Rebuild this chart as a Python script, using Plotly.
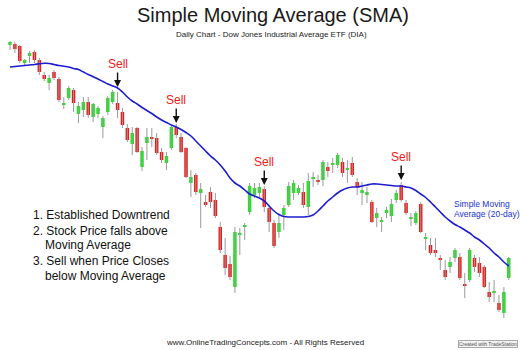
import plotly.graph_objects as go

# ---- data (price units) ----
opens = [305, 306, 304, 287, 294, 298, 290, 275, 267, 278,
         271, 245, 252, 260, 236, 240, 248, 233, 236, 223,
         238, 248, 247, 238, 222, 206, 222, 183, 207, 213,
         212, 198, 187, 202, 223, 213, 202, 167, 175, 157,
         148, 158, 150, 123, 95, 86, 63, 115, 123, 138,
         155, 157, 161, 142, 127, 118, 135, 145, 157, 157,
         158, 143, 171, 170, 170, 183, 185, 185, 188, 180,
         187, 168, 157, 155, 148, 132, 128, 137, 134, 150,
         165, 147, 131, 127, 146, 111, 105, 100, 92, 80,
         83, 92, 93, 66, 70, 92, 87, 83, 58, 57,
         47, 37, 72]
highs = [309, 308, 305, 291, 299, 300, 292, 278, 275, 280,
         273, 253, 264, 262, 248, 253, 253, 247, 244, 234,
         254, 260, 258, 242, 226, 223, 223, 203, 222, 222,
         217, 202, 198, 225, 226, 217, 203, 180, 177, 167,
         155, 163, 157, 128, 112, 94, 123, 122, 127, 167,
         167, 167, 164, 145, 130, 135, 145, 168, 170, 165,
         167, 177, 178, 175, 190, 188, 192, 197, 192, 190,
         193, 172, 168, 163, 150, 142, 133, 143, 151, 160,
         168, 150, 137, 139, 148, 117, 112, 112, 95, 90,
         93, 102, 97, 77, 102, 95, 93, 85, 68, 70,
         55, 63, 93]
lows = [300, 297, 287, 285, 287, 287, 275, 269, 260, 270,
        248, 241, 250, 238, 227, 233, 232, 228, 232, 212,
        235, 246, 232, 222, 208, 195, 197, 179, 190, 203,
        195, 187, 180, 200, 212, 197, 172, 153, 155, 122,
        143, 142, 132, 97, 75, 70, 57, 95, 110, 135,
        152, 153, 138, 118, 102, 112, 120, 143, 150, 155,
        142, 135, 163, 165, 164, 173, 177, 182, 173, 167,
        173, 155, 145, 147, 127, 123, 118, 132, 128, 147,
        148, 135, 124, 125, 117, 100, 95, 93, 80, 70,
        77, 88, 70, 52, 68, 78, 73, 62, 48, 48,
        38, 32, 70]
closes = [308, 301, 289, 290, 297, 290, 278, 271, 272, 272,
          250, 247, 262, 247, 244, 248, 235, 246, 242, 232,
          252, 258, 240, 225, 210, 217, 198, 199, 213, 211,
          197, 190, 194, 223, 215, 198, 173, 173, 158, 161,
          145, 148, 134, 100, 82, 73, 118, 117, 125, 164,
          162, 163, 143, 128, 104, 127, 142, 164, 167, 162,
          145, 169, 173, 168, 188, 179, 187, 195, 177, 182,
          175, 163, 160, 158, 128, 137, 130, 140, 146, 157,
          150, 137, 133, 137, 118, 113, 97, 97, 90, 73,
          88, 100, 72, 64, 100, 83, 77, 63, 53, 59,
          40, 58, 92]
sma20 = [283, 283.5, 284, 284.5, 285, 285.5, 286.2, 286.7, 286.5, 285.5,
         284.5, 283.7, 283, 281.5, 280.5, 278, 275.5, 273.3, 271, 268.5,
         266, 264, 262, 258, 253, 249, 246, 242.5, 239.5, 236.5,
         233, 230, 227.5, 225, 223, 220.5, 217.5, 214, 209, 204,
         199, 194, 190, 185, 179, 172, 167, 164, 160, 156,
         154, 152, 149, 144, 139, 135.5, 133.5, 133, 133, 133,
         133, 133.5, 135, 139, 144, 149, 153, 157, 160, 162,
         163, 163, 164, 165, 166, 166, 165.5, 165, 164.5, 164,
         164, 163, 162, 159.5, 156, 152.5, 148, 143, 138, 133,
         129, 125.5, 123, 120, 117, 113, 110, 106, 102, 97,
         93, 88, 84]
sell_idx = [22, 34, 52, 80]
sell_tip = [263, 227, 165, 170]

steps = [
    "1. Established Downtrend",
    "2. Stock Price falls above",
    "Moving Average",
    "3. Sell when Price Closes",
    "below Moving Average",
]
step_indent = [False, False, True, False, True]

days = list(range(len(opens)))
FONT = "Liberation Sans, Arial, sans-serif"
RED = "#f01818"
GREEN = "#1ee61e"

fig = go.Figure()

# wicks
wx, wy = [], []
for d, h, l in zip(days, highs, lows):
    wx += [d, d, None]
    wy += [l, h, None]
fig.add_trace(go.Scatter(x=wx, y=wy, mode="lines",
                         line=dict(color="#9a9a9a", width=1),
                         hoverinfo="skip"))

# bodies
base = [min(o, c) for o, c in zip(opens, closes)]
height = [abs(c - o) for o, c in zip(opens, closes)]
colors = [GREEN if c >= o else RED for o, c in zip(opens, closes)]
fig.add_trace(go.Bar(x=days, y=height, base=base, width=0.72,
                     marker=dict(color=colors, line=dict(width=0))))

# moving average
fig.add_trace(go.Scatter(x=days, y=sma20, mode="lines",
                         line=dict(color="#1c1cd2", width=1.6, shape="spline"),
                         hoverinfo="skip"))

ann = []
for i, t in zip(sell_idx, sell_tip):
    ann.append(dict(x=i, y=t, xref="x", yref="y", text="Sell",
                    showarrow=True, ax=0, ay=-23, arrowhead=2, arrowsize=1,
                    arrowwidth=1.4, arrowcolor="#111111",
                    font=dict(family=FONT, size=12, color=RED)))


def label(x, y, text, size, color, xanchor="center", **kw):
    d = dict(x=x / 520, y=(350 - y) / 350, xref="paper", yref="paper",
             xanchor=xanchor, yanchor="middle", text=text, showarrow=False,
             borderpad=0, font=dict(family=FONT, size=size, color=color))
    d.update(kw)
    return d


ann.append(label(272.5, 14.5, "Simple Moving Average (SMA)", 20, "#1a1a1a"))
ann.append(label(271.7, 34.5, "Daily Chart - Dow Jones Industrial Average ETF (DIA)",
                 8, "#1a1a1a"))

ys = [215.5, 230.5, 245, 260.5, 275.5]
for s, ind, yy in zip(steps, step_indent, ys):
    ann.append(label(44.3 if ind else 31.7, yy, s, 12, "#111111", xanchor="left"))

ann.append(label(452.7, 203.5, "Simple Moving", 8.5, "#2234d6", xanchor="left"))
ann.append(label(452.7, 214, "Average (20-day)", 8.5, "#2234d6", xanchor="left"))

ann.append(label(265, 342.5, "www.OnlineTradingConcepts.com - All Rights Reserved",
                 8, "#1a1a1a"))
ann.append(label(488, 344, "Created with TradeStation", 5, "#555555",
                 bgcolor="#f2f2f2", bordercolor="#aaaaaa", borderwidth=1))

fig.update_layout(
    width=520, height=350,
    margin=dict(l=0, r=0, t=0, b=0),
    paper_bgcolor="white", plot_bgcolor="white",
    showlegend=False,
    xaxis=dict(visible=False, range=[-2.045, 104.3], fixedrange=True),
    yaxis=dict(visible=False, range=[0, 350], fixedrange=True),
    annotations=ann,
)

fig.write_html("out.html")
